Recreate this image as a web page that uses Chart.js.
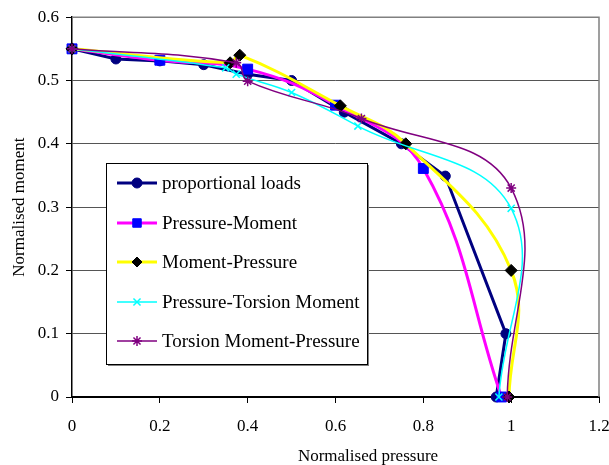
<!DOCTYPE html>
<html>
<head>
<meta charset="utf-8">
<script src="https://cdn.jsdelivr.net/npm/chart.js@4.4.1/dist/chart.umd.min.js"></script>
<style>
  body { margin: 0; background: #fff; }
  canvas { display: block; }
</style>
</head>
<body>
<canvas id="chart" width="609" height="465"></canvas>
<script>
const xTicks = [0, 0.2, 0.4, 0.6, 0.8, 1, 1.2];
const yTicks = [0, 0.1, 0.2, 0.3, 0.4, 0.5, 0.6];

const seriesNames = [
    'proportional loads',
    'Pressure-Moment',
    'Moment-Pressure',
    'Pressure-Torsion Moment',
    'Torsion Moment-Pressure'
];

const proportionalX = [0, 0.1, 0.2, 0.3, 0.4, 0.5, 0.62, 0.75, 0.85, 0.988, 0.966];
const proportionalY = [0.55, 0.534, 0.531, 0.525, 0.51, 0.5, 0.45, 0.40, 0.349, 0.10, 0];

const pressureMomentX = [0, 0.2, 0.4, 0.6, 0.8, 0.978];
const pressureMomentY = [0.55, 0.532, 0.518, 0.461, 0.361, 0];

const momentPressureX = [0, 0.36, 0.382, 0.611, 0.76, 1.0, 0.995];
const momentPressureY = [0.55, 0.528, 0.54, 0.46, 0.40, 0.2, 0];

const pressureTorsionX = [0, 0.35, 0.374, 0.5, 0.651, 1.0, 0.972];
const pressureTorsionY = [0.55, 0.52, 0.51, 0.481, 0.428, 0.298, 0];

const torsionPressureX = [0, 0.374, 0.40, 0.659, 1.0, 0.991];
const torsionPressureY = [0.55, 0.528, 0.499, 0.44, 0.33, 0];

const FONT = "'Liberation Serif', 'Times New Roman', serif";

const toPoints = (xs, ys) => xs.map((x, i) => ({x: x, y: ys[i]}));

// line colour, marker colour, marker style, sizes
const styles = [
    {line: '#000080', marker: '#000080', pointStyle: 'circle', radius: 5, width: 3, tension: 0},
    {line: '#FF00FF', marker: '#0000FF', pointStyle: 'rect', radius: 7, width: 3, tension: 0.4},
    {line: '#FFFF00', marker: '#000000', pointStyle: 'rectRot', radius: 6, width: 3, tension: 0.4},
    {line: '#00FFFF', marker: '#00FFFF', pointStyle: 'crossRot', radius: 5, width: 1.5, tension: 0.4},
    {line: '#800080', marker: '#800080', pointStyle: 'star', radius: 5, width: 1.5, tension: 0.4}
];

const allPoints = [
    toPoints(proportionalX, proportionalY),
    toPoints(pressureMomentX, pressureMomentY),
    toPoints(momentPressureX, momentPressureY),
    toPoints(pressureTorsionX, pressureTorsionY),
    toPoints(torsionPressureX, torsionPressureY)
];

const datasets = allPoints.map((pts, i) => ({
    label: seriesNames[i],
    data: pts,
    borderColor: styles[i].line,
    borderWidth: styles[i].width,
    backgroundColor: styles[i].marker,
    pointBackgroundColor: styles[i].marker,
    pointBorderColor: styles[i].marker,
    pointBorderWidth: styles[i].pointStyle === 'crossRot' || styles[i].pointStyle === 'star' ? 1.5 : 1,
    pointStyle: styles[i].pointStyle,
    pointRadius: styles[i].radius,
    tension: styles[i].tension,
    showLine: true,
    fill: false,
    clip: false,
    order: 5 - i // later series on top, like the original
}));

// frame on top/right, legend box inside the plot, x title
const extras = {
    id: 'extras',
    afterDatasetsDraw(chart) {
        const ctx = chart.ctx;
        const a = chart.chartArea;
        ctx.save();
        ctx.strokeStyle = '#808080';
        ctx.lineWidth = 1.5;
        ctx.beginPath();
        ctx.moveTo(a.left, a.top);
        ctx.lineTo(a.right, a.top);
        ctx.lineTo(a.right, a.bottom);
        ctx.stroke();

        // legend
        const bx = 106, by = 163, bw = 261, bh = 201;
        ctx.fillStyle = '#fff';
        ctx.fillRect(bx, by, bw, bh);
        ctx.strokeStyle = '#808080';
        ctx.lineWidth = 2;
        ctx.beginPath();
        ctx.moveTo(bx + bw + 1, by + 2);
        ctx.lineTo(bx + bw + 1, by + bh + 1);
        ctx.lineTo(bx + 2, by + bh + 1);
        ctx.stroke();
        ctx.strokeStyle = '#000';
        ctx.lineWidth = 1;
        ctx.strokeRect(bx + 0.5, by + 0.5, bw, bh);

        const rowY = [183, 223, 262, 302, 341];
        ctx.font = '19px ' + FONT;
        ctx.textBaseline = 'middle';
        ctx.textAlign = 'left';
        seriesNames.forEach((name, i) => {
            const s = styles[i];
            const y = rowY[i];
            ctx.strokeStyle = s.line;
            ctx.lineWidth = s.width;
            ctx.beginPath();
            ctx.moveTo(117, y);
            ctx.lineTo(157, y);
            ctx.stroke();
            ctx.fillStyle = s.marker;
            ctx.strokeStyle = s.marker;
            ctx.lineWidth = datasets[i].pointBorderWidth;
            Chart.helpers.drawPoint(ctx, {
                pointStyle: s.pointStyle,
                radius: s.pointStyle === 'rect' ? 6 : 5,
                rotation: 0,
                borderWidth: datasets[i].pointBorderWidth
            }, 137, y);
            ctx.fillStyle = '#000';
            ctx.fillText(name, 162, y + 1);
        });

        // x axis title
        ctx.fillStyle = '#000';
        ctx.font = '17px ' + FONT;
        ctx.textAlign = 'center';
        ctx.textBaseline = 'alphabetic';
        ctx.fillText('Normalised pressure', 368, 461);
        ctx.restore();
    }
};

Chart.register(extras);

new Chart(document.getElementById('chart'), {
    type: 'scatter',
    data: {datasets: datasets},
    options: {
        responsive: false,
        animation: false,
        events: [],
        layout: {padding: {top: 16, right: 0, left: 0, bottom: 0}},
        plugins: {
            legend: {display: false},
            tooltip: {enabled: false}
        },
        scales: {
            x: {
                type: 'linear',
                min: 0,
                max: 1.2,
                afterBuildTicks: (scale) => {
                    scale.ticks = xTicks.map(v => ({value: v}));
                },
                afterFit: (scale) => {
                    scale.height = 68;
                    scale.paddingRight = 10;
                },
                ticks: {
                    color: '#000',
                    font: {family: FONT, size: 17},
                    padding: 13,
                    maxRotation: 0,
                    callback: (v) => String(v)
                },
                grid: {
                    drawOnChartArea: false,
                    drawTicks: true,
                    tickLength: 6,
                    tickColor: '#000',
                    tickWidth: 1
                },
                border: {color: '#000', width: 2}
            },
            y: {
                type: 'linear',
                min: 0,
                max: 0.6,
                afterBuildTicks: (scale) => {
                    scale.ticks = yTicks.map(v => ({value: v}));
                },
                afterFit: (scale) => {
                    scale.width = 72;
                },
                ticks: {
                    color: '#000',
                    font: {family: FONT, size: 17},
                    padding: 7,
                    callback: (v) => String(v)
                },
                grid: {
                    color: '#555',
                    lineWidth: 1,
                    drawTicks: true,
                    tickLength: 6,
                    tickColor: '#000'
                },
                border: {color: '#000', width: 1.5},
                title: {
                    display: true,
                    text: 'Normalised moment',
                    color: '#000',
                    font: {family: FONT, size: 17, weight: 'normal'},
                    padding: {top: 9, bottom: 0}
                }
            }
        }
    }
});
</script>
</body>
</html>
